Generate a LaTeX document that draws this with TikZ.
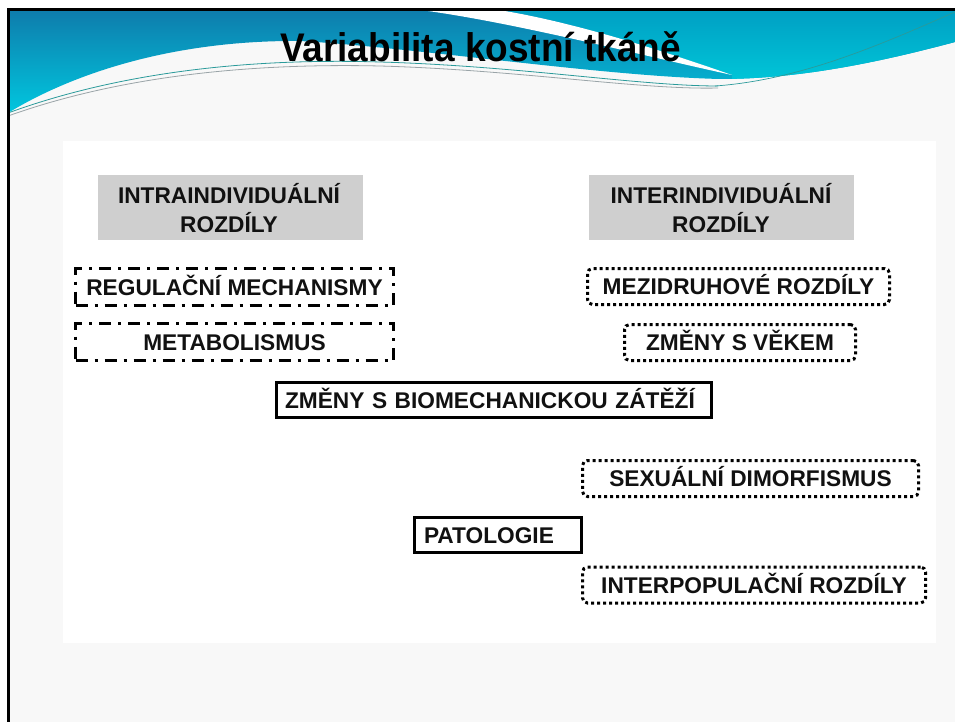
\documentclass[tikz,border=0pt]{standalone}
\usepackage{fontspec}
\setmainfont{Liberation Sans}
\definecolor{slidebg}{HTML}{F8F8F8}
\definecolor{boxgray}{HTML}{CFCFCF}
\definecolor{txt}{HTML}{111111}
\definecolor{hdtop}{HTML}{0E7DAC}
\definecolor{hdbot}{HTML}{00C8E0}
\definecolor{rttop}{HTML}{00A0C4}
\definecolor{rtmid}{HTML}{0096D2}
\definecolor{rtbot}{HTML}{00C6D8}
\definecolor{wavea}{HTML}{2A9A9A}
\definecolor{waveb}{HTML}{9AA4A8}
\begin{document}
\begin{tikzpicture}[x=1pt,y=-1pt,
  lbl/.style={font=\fontsize{22.7}{26}\selectfont\bfseries, text=txt, inner sep=0pt, text height=16.2pt, text depth=0pt},
  graybox/.style={fill=boxgray, minimum width=265pt, minimum height=65pt, inner sep=0pt},
  dashdotbox/.style={lbl, draw=black, line width=3pt, dash pattern=on 12pt off 7pt on 3pt off 7pt, minimum width=318pt, minimum height=37pt},
  dotbox/.style={lbl, draw=black, line width=3pt, dash pattern=on 3pt off 3pt, rounded corners=5pt, minimum height=36pt},
  solidbox/.style={lbl, draw=black, line width=3pt, minimum height=35pt, align=left},
  titlefont/.style={font=\fontsize{37}{40}\selectfont\bfseries, text=black, inner sep=0pt}
]
\useasboundingbox (0,0) rectangle (955,722);
\fill[white] (0,0) rectangle (955,722);
% slide background
\fill[slidebg] (8,10) rectangle (955,722);
\fill[white] (63,141) rectangle (936,643);
% header swoosh
\begin{scope}
\path[clip]
  (8,11) -- (955,11) -- (955,42)
  .. controls (880,62) and (800,79) .. (720,79)
  .. controls (600,76) and (420,48) .. (300,41)
  .. controls (170,40) and (70,75) .. (8,113) -- cycle;
\shade[top color=hdtop, bottom color=hdbot] (8,11) rectangle (955,115);
\shade[top color=rttop, middle color=rtmid, bottom color=rtbot]
  (505,11) -- (955,11) -- (955,82) -- (732,82) -- (732,75)
  .. controls (660,50) and (580,24) .. (505,11) -- cycle;
\end{scope}
\fill[white] (428,11) .. controls (520,24) and (640,55) .. (732,75)
  .. controls (660,50) and (580,24) .. (505,11) -- cycle;
\draw[wavea, line width=0.8pt] (8,113) .. controls (120,72) and (250,58) .. (380,62)
  .. controls (520,66) and (640,86) .. (718,86);
\draw[waveb, line width=0.8pt] (8,116) .. controls (120,76) and (250,63) .. (380,66)
  .. controls (520,70) and (640,90) .. (718,88);
\draw[wavea, line width=0.7pt] (715,86) .. controls (800,80) and (880,45) .. (955,12);
% frame
\draw[black, line width=3pt] (7,10) -- (955,10);
\draw[black, line width=3pt] (8.5,9) -- (8.5,722);
% title
\node[titlefont, anchor=base, yscale=1.08] (title) at (480.5,62) {Variabilita kostní tkáně};
% gray headers
\node[graybox] (intra) at (230.5,207.5) {};
\node[lbl] (intra1) at (229,195) {INTRAINDIVIDUÁLNÍ};
\node[lbl] (intra2) at (229,224) {ROZDÍLY};
\node[graybox] (inter) at (721.5,207.5) {};
\node[lbl] (inter1) at (721,195) {INTERINDIVIDUÁLNÍ};
\node[lbl] (inter2) at (721,224) {ROZDÍLY};
% left boxes
\node[dashdotbox] (reg) at (234.5,287) {REGULAČNÍ MECHANISMY};
\node[dashdotbox] (meta) at (234.5,342) {METABOLISMUS};
% right boxes
\node[dotbox, minimum width=302pt] (mezi) at (738.5,286.5) {MEZIDRUHOVÉ ROZDÍLY};
\node[dotbox, minimum width=231pt] (vek) at (740,342.5) {ZMĚNY S VĚKEM};
\node[dotbox, minimum width=336pt] (sex) at (750.5,478.5) {SEXUÁLNÍ DIMORFISMUS};
\node[dotbox, minimum width=343pt] (inp) at (754,585) {INTERPOPULAČNÍ ROZDÍLY};
% solid boxes
\node[solidbox, inner xsep=8.5pt, text width=418pt] (bio) at (494,400) {ZMĚNY S BIOMECHANICKOU ZÁTĚŽÍ};
\node[solidbox, inner xsep=9.5pt, text width=148pt] (pat) at (498,535) {PATOLOGIE};
\end{tikzpicture}
\end{document}
